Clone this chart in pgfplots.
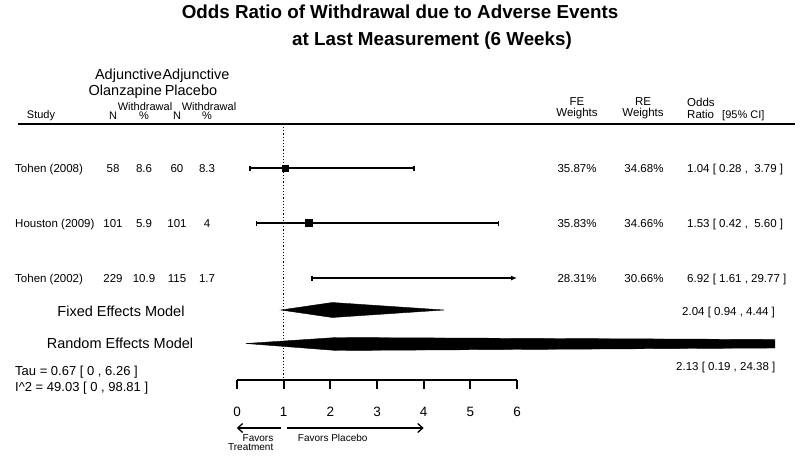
\documentclass[border=0pt]{standalone}
\usepackage{pgfplots}
\pgfplotsset{compat=1.18}
\usepackage{fontspec}
\setmainfont{Liberation Sans}
\usetikzlibrary{arrows.meta}
\newcommand{\fs}[1]{\fontsize{#1}{#1}\selectfont}
\begin{document}
\begin{tikzpicture}
\begin{axis}[
  scale only axis, width=800pt, height=455pt,
  xmin=-5.0786, xmax=12.064, ymin=0, ymax=455, y dir=reverse,
  hide axis, clip=false,
]
\path (rel axis cs:0,0) rectangle (rel axis cs:1,1);
\tikzset{t/.style={anchor=base, inner sep=0pt, text=black}}
% title
\node[t] at (axis cs:3.493,18.8) {\fs{18.8}\bfseries Odds Ratio of Withdrawal due to Adverse Events};
\node[t] at (axis cs:4.179,45.5) {\fs{18.8}\bfseries at Last Measurement (6 Weeks)};
% header
\node[t] at (axis cs:-2.325,79) {\fs{14.5}Adjunctive};
\node[t] at (axis cs:-0.879,79) {\fs{14.5}Adjunctive};
\node[t] at (axis cs:-2.393,95) {\fs{14.5}Olanzapine};
\node[t] at (axis cs:-0.986,95) {\fs{14.5}Placebo};
\node[t] at (axis cs:-1.971,110) {\fs{11}Withdrawal};
\node[t] at (axis cs:-0.600,110) {\fs{11}Withdrawal};
\node[t] at (axis cs:-4.200,118.5) {\fs{11}Study};
\node[t] at (axis cs:-2.657,119.5) {\fs{11}N};
\node[t] at (axis cs:-1.993,119.5) {\fs{11}\%};
\node[t] at (axis cs:-1.286,119.5) {\fs{11}N};
\node[t] at (axis cs:-0.643,119.5) {\fs{11}\%};
\node[t] at (axis cs:7.286,105) {\fs{11.5}FE};
\node[t] at (axis cs:7.286,116.7) {\fs{11.5}Weights};
\node[t] at (axis cs:8.700,105) {\fs{11.5}RE};
\node[t] at (axis cs:8.700,116.7) {\fs{11.5}Weights};
\node[t, anchor=base west] at (axis cs:9.643,106.7) {\fs{11.5}Odds};
\node[t, anchor=base west] at (axis cs:9.643,118.3) {\fs{11.5}Ratio};
\node[t, anchor=base west] at (axis cs:10.393,118.3) {\fs{11}[95\% CI]};
\addplot[black, line width=2.5pt] coordinates {(-4.693,124) (11.957,124)};
% study rows
\node[t, anchor=base west] at (axis cs:-4.757,172) {\fs{11.5}Tohen (2008)};
\node[t, anchor=base west] at (axis cs:-4.757,227) {\fs{11.5}Houston (2009)};
\node[t, anchor=base west] at (axis cs:-4.757,282) {\fs{11.5}Tohen (2002)};
\node[t] at (axis cs:-2.657,172) {\fs{11.5}58};
\node[t] at (axis cs:-1.993,172) {\fs{11.5}8.6};
\node[t] at (axis cs:-1.286,172) {\fs{11.5}60};
\node[t] at (axis cs:-0.643,172) {\fs{11.5}8.3};
\node[t] at (axis cs:-2.657,227) {\fs{11.5}101};
\node[t] at (axis cs:-1.993,227) {\fs{11.5}5.9};
\node[t] at (axis cs:-1.286,227) {\fs{11.5}101};
\node[t] at (axis cs:-0.643,227) {\fs{11.5}4};
\node[t] at (axis cs:-2.657,282) {\fs{11.5}229};
\node[t] at (axis cs:-1.993,282) {\fs{11.5}10.9};
\node[t] at (axis cs:-1.286,282) {\fs{11.5}115};
\node[t] at (axis cs:-0.643,282) {\fs{11.5}1.7};
\node[t] at (axis cs:7.286,172) {\fs{11.5}35.87\%};
\node[t] at (axis cs:8.721,172) {\fs{11.5}34.68\%};
\node[t, anchor=base west] at (axis cs:9.643,172) {\fs{11.5}1.04 [ 0.28 ,\ \ 3.79 ]};
\node[t] at (axis cs:7.286,227) {\fs{11.5}35.83\%};
\node[t] at (axis cs:8.721,227) {\fs{11.5}34.66\%};
\node[t, anchor=base west] at (axis cs:9.643,227) {\fs{11.5}1.53 [ 0.42 ,\ \ 5.60 ]};
\node[t] at (axis cs:7.286,282) {\fs{11.5}28.31\%};
\node[t] at (axis cs:8.721,282) {\fs{11.5}30.66\%};
\node[t, anchor=base west] at (axis cs:9.643,282) {\fs{11.5}6.92 [ 1.61 , 29.77 ]};
% reference dotted line
\addplot[black, line width=1.3pt, dash pattern=on 1.2pt off 2pt] coordinates {(1,127) (1,380)};
% CIs
\addplot[black, line width=1.3pt, mark=|, mark size=2.5pt] coordinates {(0.28,168) (3.79,168)};
\addplot[black, only marks, mark=square*, mark size=3pt] coordinates {(1.04,168)};
\addplot[black, line width=1.3pt, mark=|, mark size=2.5pt] coordinates {(0.42,223) (5.60,223)};
\addplot[black, only marks, mark=square*, mark size=3.5pt] coordinates {(1.53,223)};
\addplot[black, line width=1.3pt, -{Latex[length=6pt,width=5pt]}] coordinates {(1.61,278) (6,278)};
\addplot[black, only marks, mark=|, mark size=2.5pt, mark options={line width=1.3pt}] coordinates {(1.61,278)};
% summary diamonds
\node[t] at (axis cs:-2.486,316) {\fs{14.5}Fixed Effects Model};
\addplot[black, fill=black] coordinates {(0.94,310) (2.04,302.5) (4.44,310) (2.04,317.5)} -- cycle;
\node[t, anchor=base west] at (axis cs:9.536,315) {\fs{11.5}2.04 [ 0.94 , 4.44 ]};
\node[t] at (axis cs:-2.507,348) {\fs{14.5}Random Effects Model};
\addplot[black, fill=black] coordinates {(0.19,343.5) (2.13,337.5) (11.528,339.5) (11.528,348) (2.13,350.5)} -- cycle;
\node[t, anchor=base west] at (axis cs:9.407,370) {\fs{11.5}2.13 [ 0.19 , 24.38 ]};
\node[t, anchor=base west] at (axis cs:-4.757,375) {\fs{13}Tau = 0.67 [ 0 , 6.26 ]};
\node[t, anchor=base west] at (axis cs:-4.757,391) {\fs{13}I\textasciicircum 2 = 49.03 [ 0 , 98.81 ]};
% bottom scale
\addplot[black, line width=2pt, mark=|, mark size=4.75pt, mark options={yshift=-4.75pt, line width=2pt}] coordinates {(0,379.5) (1,379.5) (2,379.5) (3,379.5) (4,379.5) (5,379.5) (6,379.5)};
\node[t] at (axis cs:0,416.7) {\fs{13.5}0};
\node[t] at (axis cs:1,416.7) {\fs{13.5}1};
\node[t] at (axis cs:2,416.7) {\fs{13.5}2};
\node[t] at (axis cs:3,416.7) {\fs{13.5}3};
\node[t] at (axis cs:4,416.7) {\fs{13.5}4};
\node[t] at (axis cs:5,416.7) {\fs{13.5}5};
\node[t] at (axis cs:6,416.7) {\fs{13.5}6};
\addplot[black, line width=1.3pt, -{Straight Barb[length=5pt,width=9pt]}] coordinates {(0.94,428) (-0.006,428)};
\addplot[black, line width=1.3pt, -{Straight Barb[length=5pt,width=9pt]}] coordinates {(1.07,428) (4.0,428)};
\node[t] at (axis cs:0.45,441) {\fs{10}Favors};
\node[t] at (axis cs:0.294,450) {\fs{10}Treatment};
\node[t] at (axis cs:2.051,441) {\fs{10}Favors Placebo};
\end{axis}
\end{tikzpicture}
\end{document}
